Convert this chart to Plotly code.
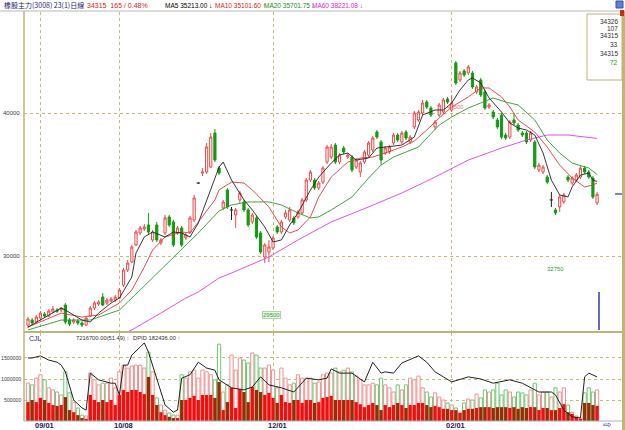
import plotly.graph_objects as go

# ---------------- data ----------------
title_text = "橡股主力(3008) 23(1)日線"
quote_text = "34315  165 / 0.48%"
ma_header = [("MA5 35213.00 ↓", "#000000"), ("MA10 35101.60 ↑", "#e02020"),
             ("MA20 35701.75 ↓", "#109010"), ("MA60 38221.08 ↓", "#e020e0")]
info_box = [("34326", "#303030"), ("107", "#303030"), ("34315", "#303030"),
            ("33", "#303030"), ("34315", "#303030"), ("72", "#10a010")]
date_ticks = [3, 22, 59, 102]
date_labels = ["09/01", "10/08", "12/01", "02/01"]
price_ticks = [30000, 40000]
vol_ticks = [500000, 1000000, 1500000]

opens = [
    25170, 25520, 25380, 25660, 25940, 25800, 26080, 26220, 26220, 26570,
    25520, 25380, 25450, 25310, 25170, 25800, 26360, 26640, 27130, 26710,
    26850, 26920, 27060, 27970, 29020, 29580, 30770, 31610, 31890, 32170,
    31120, 32170, 30910, 31610, 32730, 32380, 31610, 31960, 31260, 31680,
    32520, 35100, 35800, 35870, 36220, 38600, 36150, 33360, 34620, 33220,
    32870, 33920, 33780, 33220, 32380, 32660, 31610, 29930, 30280, 30560,
    32030, 31680, 32730, 32520, 32660, 32730, 33010, 33920, 35310, 35310,
    34760, 35170, 36570, 36920, 37760, 36570, 37550, 36920, 36920, 36220,
    35870, 36570, 37060, 37410, 38670, 37970, 37200, 37270, 37900, 38460,
    37970, 38670, 37970, 39020, 39510, 40000, 40770, 40350, 39020, 39860,
    40070, 40980, 40210, 43500, 42310, 42940, 42800, 42800, 41470, 42310,
    41470, 40420, 40070, 39510, 39860, 38460, 38320, 39510, 39160, 38600,
    38600, 38110, 37970, 36010, 35870, 35520, 33920, 33220, 33430, 33780,
    35520, 35100, 35310, 35520, 36150, 35870, 35450, 33710]
closes = [
    25590, 25310, 25730, 26010, 25800, 26150, 26290, 26150, 26360, 25380,
    25240, 25520, 25310, 25170, 25660, 26360, 26710, 26780, 26570, 26920,
    26990, 27130, 27620, 29020, 29510, 30630, 31680, 31960, 32030, 31680,
    31680, 31120, 31120, 32660, 32170, 30770, 31960, 30770, 31470, 32660,
    34060, 35100, 35870, 37620, 38320, 36710, 35800, 33780, 33430, 33220,
    33220, 34410, 33220, 32170, 32870, 31330, 30280, 30770, 30630, 31260,
    31680, 32380, 33010, 33220, 32310, 33080, 33920, 35310, 35870, 34760,
    35100, 36150, 37620, 37620, 36570, 37060, 37270, 37060, 36010, 36710,
    36500, 37270, 37900, 38250, 38320, 36710, 37550, 37620, 38460, 38110,
    38600, 38250, 38320, 40000, 40070, 40700, 40420, 39860, 39370, 40560,
    40910, 40770, 40700, 42100, 42800, 42660, 43220, 41820, 41820, 41260,
    40350, 40560, 39720, 39020, 38320, 38250, 39370, 39300, 38810, 38460,
    37970, 38600, 36220, 36360, 36220, 35170, 33920, 33010, 34130, 34270,
    35310, 35450, 35660, 36150, 35870, 35520, 34130, 34315]
highs = [
    25730, 25660, 25870, 26150, 26080, 26290, 26500, 26360, 26430, 26710,
    25660, 25660, 25590, 25450, 25730, 26500, 26850, 26920, 27410, 27060,
    27130, 27270, 27760, 29160, 29720, 30770, 31820, 32100, 32240, 33010,
    31820, 32380, 31260, 32870, 32870, 32520, 32100, 32100, 31610, 32800,
    34270, 35170, 36150, 37900, 38600, 38880, 36290, 33920, 34760, 33430,
    33360, 34550, 33920, 33360, 33010, 32800, 31750, 30910, 31120, 31400,
    32170, 32520, 33220, 33430, 32800, 33220, 34060, 35450, 36010, 35450,
    35240, 36290, 37760, 37830, 37900, 37200, 37690, 37200, 37060, 36850,
    36640, 37410, 38040, 38390, 38810, 38110, 37690, 37760, 38600, 38600,
    38740, 38810, 38460, 40140, 40210, 40910, 40910, 40490, 39510, 40700,
    41050, 41120, 41260, 43640, 42940, 43080, 43360, 42940, 41960, 42450,
    41610, 40700, 40210, 39650, 40000, 38600, 39510, 40000, 39300, 38740,
    38740, 38740, 38110, 36500, 36360, 35660, 34480, 33360, 34270, 34410,
    35660, 35590, 35800, 36290, 36290, 36010, 35590, 34480]
lows = [
    24960, 25170, 25310, 25520, 25660, 25730, 26010, 26010, 26080, 25240,
    25100, 25240, 25170, 25030, 25100, 25730, 26220, 26500, 26500, 26570,
    26780, 26780, 26990, 27830, 28880, 29510, 30700, 31470, 31750, 31540,
    30980, 30980, 30770, 31470, 32030, 30630, 31470, 30630, 31120, 31540,
    32380, 35030, 35590, 35730, 36150, 36570, 35660, 33220, 33290, 32520,
    31960, 33710, 33080, 32030, 32240, 31190, 30140, 29510, 29580, 30420,
    31540, 31540, 32590, 32380, 32170, 32590, 32870, 33780, 35170, 34620,
    34620, 35030, 36430, 36780, 36430, 36430, 37130, 36780, 35870, 36080,
    35520, 36430, 36920, 37270, 38180, 36360, 37060, 37130, 37760, 37970,
    37830, 38110, 37830, 38880, 39370, 39860, 40280, 39720, 38810, 39720,
    39930, 40630, 40070, 41960, 42170, 42520, 42660, 41680, 41330, 41120,
    40210, 40280, 39580, 38880, 38180, 38110, 38180, 39160, 38670, 38320,
    37830, 37970, 36080, 35870, 35730, 35030, 33430, 32870, 33080, 33640,
    35170, 34960, 35170, 35380, 35730, 35380, 33990, 33570]

vol_total = [
    900000, 860000, 1020000, 1100000, 980000, 790000, 740000, 690000, 620000, 1170000,
    670000, 450000, 310000, 140000, 120000, 1140000, 980000, 860000, 900000, 900000,
    1020000, 790000, 1170000, 1330000, 1260000, 1310000, 1330000, 1330000, 1260000, 1640000,
    1170000, 550000, 380000, 260000, 190000, 140000, 140000, 1100000, 1020000, 1170000,
    1210000, 1020000, 1210000, 1170000, 1100000, 980000, 1830000, 690000, 860000, 1570000,
    1210000, 1500000, 1450000, 1380000, 1620000, 1570000, 1260000, 1260000, 1330000, 1210000,
    790000, 1260000, 1020000, 860000, 900000, 1100000, 1020000, 1020000, 1020000, 900000,
    930000, 1100000, 1140000, 1140000, 1260000, 1170000, 1210000, 1260000, 1170000, 1070000,
    980000, 860000, 860000, 900000, 860000, 1020000, 860000, 790000, 690000, 860000,
    740000, 860000, 1020000, 980000, 1070000, 790000, 690000, 570000, 670000, 570000,
    500000, 430000, 380000, 310000, 210000, 430000, 520000, 500000, 640000, 550000,
    740000, 690000, 740000, 900000, 620000, 740000, 690000, 570000, 690000, 670000,
    620000, 740000, 900000, 620000, 690000, 690000, 570000, 790000, 690000, 790000,
    380000, 210000, 120000, 70000, 670000, 790000, 690000, 740000]
vol_main = [
    450000, 500000, 450000, 550000, 500000, 430000, 380000, 360000, 380000, 570000,
    260000, 210000, 140000, 70000, 50000, 620000, 500000, 450000, 500000, 450000,
    500000, 380000, 620000, 740000, 690000, 740000, 740000, 690000, 640000, 1050000,
    620000, 380000, 210000, 140000, 100000, 70000, 70000, 500000, 500000, 550000,
    600000, 500000, 620000, 620000, 620000, 550000, 930000, 260000, 450000, 790000,
    310000, 760000, 690000, 450000, 810000, 740000, 690000, 620000, 670000, 550000,
    430000, 620000, 450000, 430000, 500000, 500000, 430000, 500000, 500000, 430000,
    450000, 550000, 570000, 600000, 500000, 500000, 500000, 500000, 500000, 450000,
    400000, 330000, 380000, 430000, 380000, 260000, 380000, 330000, 380000, 430000,
    380000, 310000, 380000, 380000, 430000, 430000, 380000, 330000, 360000, 330000,
    290000, 290000, 260000, 260000, 190000, 260000, 290000, 290000, 310000, 330000,
    330000, 330000, 310000, 330000, 330000, 330000, 310000, 330000, 290000, 330000,
    310000, 330000, 330000, 260000, 310000, 310000, 260000, 260000, 310000, 400000,
    210000, 170000, 100000, 50000, 430000, 430000, 380000, 360000]

vma_idx = [0, 1, 3, 5, 7, 8, 9, 10, 11, 13, 14, 15, 17, 20, 21, 22, 23, 24, 25, 27,
           28, 29, 31, 33, 35, 36, 37, 39, 41, 43, 45, 46, 49, 52, 54, 56, 58, 61, 64, 67,
           70, 72, 73, 75, 78, 81, 83, 85, 86, 88, 90, 93, 94, 96, 98, 100, 102, 106, 109, 112,
           116, 119, 123, 126, 127, 129, 131, 133, 134, 135, 137]
vma_val = [1500000, 1500000, 1550000, 1450000, 1400000, 1330000, 1170000, 860000, 500000, 310000,
           260000, 1140000, 980000, 900000, 900000, 620000, 1330000, 1330000, 1570000, 1760000,
           1860000, 1640000, 980000, 380000, 210000, 260000, 1020000, 1100000, 1400000, 1260000,
           1210000, 980000, 790000, 740000, 810000, 1050000, 860000, 790000, 690000, 1020000,
           980000, 1020000, 1240000, 1140000, 1140000, 930000, 1400000, 1140000, 1170000, 1140000,
           1380000, 1520000, 1550000, 1400000, 1170000, 1050000, 930000, 1050000, 1000000, 900000,
           980000, 900000, 690000, 690000, 620000, 260000, 100000, 70000, 1050000, 1140000,
           1050000]

ma5_idx = [0, 3, 8, 9, 13, 15, 17, 20, 22, 25, 26, 28, 30, 33, 35, 37, 39, 41, 44, 46,
           47, 49, 52, 54, 57, 59, 61, 63, 65, 68, 70, 73, 75, 77, 79, 82, 84, 86, 90, 93,
           95, 98, 100, 102, 104, 106, 107, 109, 111, 114, 116, 118, 120, 122, 124, 126, 128, 130, 131, 133,
           135, 136, 137]
ma5_val = [25030, 25520, 26360, 26220, 25520, 25380, 26010, 26710, 27060, 28530,
           30210, 31330, 31680, 31330, 31680, 31610, 31330, 32310, 34620, 36220,
           36570, 35310, 33920, 33220, 32030, 30980, 31120, 32170, 33010, 34620,
           35520, 36500, 37060, 37200, 36710, 36850, 37550, 37620, 37760, 38320,
           39860, 40210, 40210, 40700, 41610, 42310, 42450, 42100, 41050, 40070,
           39300, 38950, 38810, 38460, 37200, 35310, 34270, 34130, 34830, 35660,
           35800, 35310, 35213]
ma10_idx = [0, 8, 13, 17, 22, 25, 28, 30, 33, 37, 39, 42, 45, 46, 49, 52, 54, 58, 61, 63,
            65, 68, 70, 73, 77, 80, 83, 86, 90, 93, 96, 99, 102, 106, 109, 111, 114, 116, 118, 122,
            125, 128, 131, 134, 136, 137]
ma10_val = [25030, 26010, 25730, 25870, 26710, 27620, 29230, 30420, 31330, 31680,
            31610, 32730, 33920, 34620, 35170, 35100, 34620, 33430, 32030, 31610,
            31820, 32730, 34130, 35520, 36570, 36850, 36920, 37200, 37620, 38040,
            38810, 39650, 40420, 41120, 41750, 41750, 41120, 40420, 39510, 38670,
            37620, 36360, 35450, 34830, 34960, 35102]
ma20_idx = [0, 8, 15, 22, 27, 32, 37, 41, 46, 49, 53, 58, 61, 65, 68, 70, 73, 78, 82, 85,
            88, 91, 94, 99, 102, 106, 109, 112, 115, 118, 122, 125, 128, 131, 135, 137]
ma20_val = [24830, 25520, 25520, 26220, 27620, 29020, 30420, 31610, 33150, 33570,
            33780, 33780, 33570, 33010, 32660, 32730, 33220, 34130, 35450, 36360,
            36920, 37270, 37620, 39160, 39720, 40350, 40700, 41050, 40770, 40560,
            39510, 38110, 37200, 36500, 36150, 35702]
ma60_idx = [24, 25, 32, 38, 41, 46, 49, 58, 65, 73, 82, 90, 94, 98, 106, 114, 120, 125, 130, 135, 137]
ma60_val = [24700, 24830, 26010, 27060, 27480, 28460, 28810, 29930, 31120, 32380,
            33430, 34410, 34960, 35520, 36710, 37550, 38110, 38460, 38460, 38320, 38221]

low_label = "29500"
low2_label = "32750"
mark_label = "40500"
vol_header = "7216700.00(51.49) <span style='color:#e02020'>↑</span>"
dpid_header = "DPID 182436.00 <span style='color:#e02020'>↑</span>"

# ---------------- styling / geometry ----------------
W, H = 625, 430
def px(x):
    return x / W
def py(y):
    return 1 - y / H

UP = "#f04848"
DN = "#139a13"
GRID = "#c8bb78"
FRAME = "#c0b478"
FONT = "Liberation Sans, Arial, sans-serif"
CJK = "Noto Sans CJK TC, Liberation Sans, sans-serif"

N = len(opens)
idx = list(range(N))
doji = [i for i in idx if opens[i] == closes[i]]
norm = [i for i in idx if opens[i] != closes[i]]

fig = go.Figure()

fig.add_trace(go.Candlestick(
    x=norm, open=[opens[i] for i in norm], high=[highs[i] for i in norm],
    low=[lows[i] for i in norm], close=[closes[i] for i in norm],
    increasing=dict(line=dict(color=UP, width=1), fillcolor="white"),
    decreasing=dict(line=dict(color=DN, width=1), fillcolor=DN),
    whiskerwidth=0, hoverinfo="skip", xaxis="x", yaxis="y"))

dx, dy = [], []
for i in doji:
    dx += [i, i, None, i - 0.4, i + 0.4, None]
    dy += [lows[i], highs[i], None, opens[i], opens[i], None]
fig.add_trace(go.Scatter(x=dx, y=dy, mode="lines", line=dict(color="#202020", width=1),
                         hoverinfo="skip", xaxis="x", yaxis="y"))

for xs, ys, col in [(ma60_idx, ma60_val, "#e040e0"), (ma20_idx, ma20_val, "#2a9a2a"),
                    (ma10_idx, ma10_val, "#e03a3a"), (ma5_idx, ma5_val, "#202020")]:
    fig.add_trace(go.Scatter(x=xs, y=ys, mode="lines", line=dict(color=col, width=0.9),
                             hoverinfo="skip", xaxis="x", yaxis="y"))

up_day = [closes[i] >= opens[i] for i in idx]
fig.add_trace(go.Bar(x=idx, y=vol_total, width=0.78,
                     marker=dict(color="white",
                                 line=dict(color=["#f09090" if u else "#70c870" for u in up_day], width=1)),
                     hoverinfo="skip", xaxis="x2", yaxis="y2"))
fig.add_trace(go.Bar(x=idx, y=vol_main, width=0.78,
                     marker=dict(color=["#ee1010" if u else "#a02808" for u in up_day],
                                 line=dict(width=0)),
                     hoverinfo="skip", xaxis="x2", yaxis="y2"))
fig.add_trace(go.Scatter(x=vma_idx, y=vma_val, mode="lines", line=dict(color="#202020", width=1),
                         hoverinfo="skip", xaxis="x2", yaxis="y2"))

xr = [-0.96, 143.0]
xdom = [px(24), px(622)]
ax_common = dict(range=xr, domain=xdom, tickvals=date_ticks, showticklabels=False,
                 showgrid=True, gridcolor=GRID, griddash="dot", gridwidth=1,
                 zeroline=False, showline=False, ticks="", fixedrange=True)

fig.update_layout(
    width=W, height=H, margin=dict(l=0, r=0, t=0, b=0),
    paper_bgcolor="white", plot_bgcolor="white", showlegend=False,
    barmode="overlay", bargap=0.2, boxgap=0.25,
    xaxis=dict(anchor="y", rangeslider=dict(visible=False), **ax_common),
    xaxis2=dict(anchor="y2", **ax_common),
    yaxis=dict(domain=[py(331), py(12)], range=[24755, 47063], tickvals=price_ticks,
               showticklabels=False, showgrid=True, gridcolor=GRID, griddash="dot",
               zeroline=False, showline=False, ticks="", fixedrange=True),
    yaxis2=dict(domain=[py(421), py(333)], range=[0, 2095000], tickvals=vol_ticks,
                showticklabels=False, showgrid=True, gridcolor=GRID, griddash="dot",
                zeroline=False, showline=False, ticks="", fixedrange=True),
    font=dict(family=FONT, size=7, color="#303030"),
)

shapes = [
    dict(type="line", xref="paper", yref="paper", x0=0, x1=1, y0=py(11), y1=py(11),
         line=dict(color="#b8b8b8", width=1)),
    dict(type="line", xref="paper", yref="paper", x0=px(24), x1=px(24), y0=py(11), y1=py(421),
         line=dict(color=FRAME, width=1.5)),
    dict(type="line", xref="paper", yref="paper", x0=px(623.5), x1=px(623.5), y0=py(11), y1=py(430),
         line=dict(color=FRAME, width=3)),
    dict(type="line", xref="paper", yref="paper", x0=px(24), x1=px(622), y0=py(332), y1=py(332),
         line=dict(color=FRAME, width=2)),
    dict(type="line", xref="paper", yref="paper", x0=px(24), x1=px(622), y0=py(421), y1=py(421),
         line=dict(color="#b0b0b0", width=1)),
    dict(type="rect", xref="paper", yref="paper", x0=px(587), x1=px(622), y0=py(80), y1=py(14),
         line=dict(color=FRAME, width=1), fillcolor="white"),
    dict(type="line", xref="paper", yref="paper", x0=px(599), x1=px(599), y0=py(330), y1=py(292),
         line=dict(color="#3838a0", width=1.5)),
    dict(type="line", xref="paper", yref="paper", x0=px(615), x1=px(622), y0=py(194), y1=py(194),
         line=dict(color="#8080d0", width=2)),
    dict(type="rect", xref="paper", yref="paper", x0=px(616), x1=px(623), y0=py(8), y1=py(1),
         line=dict(color="#3050b0", width=1), fillcolor="#6080d0"),
    dict(type="rect", xref="paper", yref="paper", x0=px(620), x1=px(624), y0=py(16), y1=py(10),
         line=dict(width=0), fillcolor="#c03010"),
]
fig.update_layout(shapes=shapes)

ann = []
def text(x, y, s, color="#303030", size=7, anchor="left", family=FONT, **kw):
    ann.append(dict(x=px(x), y=py(y), xref="paper", yref="paper", text=s, showarrow=False,
                    xanchor=anchor, yanchor="middle", font=dict(size=size, color=color, family=family), **kw))

text(2, 5, title_text, color="#1c1c70", size=7, family=CJK)
text(85, 5, quote_text, color="#e02020", size=7)
for (s, c), x0 in zip(ma_header, [163, 213, 262, 310]):
    text(x0, 5, s, color=c, size=6.5)
for (s, c), yy in zip(info_box, [21, 29, 36, 45, 54, 62]):
    text(620, yy, s, color=c, size=6.5, anchor="right")
for v in price_ticks:
    yy = 113 + (40000 - v) * 0.0143
    text(22, yy, str(v), color="#404040", size=6, anchor="right")
for v in vol_ticks:
    yy = 421 - v / 23810.0
    text(23, yy, str(v), color="#404040", size=5.2, anchor="right")
for t, lab in zip(date_ticks, date_labels):
    xx = 28 + 4.153 * t + 4
    text(xx, 425, "<b>" + lab + "</b>", color="#222250", size=7.5, anchor="center")
text(27, 338, "CJL", color="#2a2a90", size=7)
text(74, 338, vol_header, color="#303030", size=5.8)
text(131, 338, dpid_header, color="#303030", size=5.8)
text(271, 315, low_label, color="#30a030", size=6, anchor="center",
     bgcolor="#eaf8ea", bordercolor="#a8d8a8", borderwidth=1, borderpad=0)
text(555, 269, low2_label, color="#30a030", size=6, anchor="center")
text(455, 107, mark_label, color="#f07070", size=6, anchor="center")
text(607, 424, "⇨", color="#3040a0", size=10, anchor="center")
fig.update_layout(annotations=ann)

fig.write_html("out.html", config={"displayModeBar": False, "staticPlot": True},
               post_script="document.body.style.margin='0';document.body.style.padding='0';")
